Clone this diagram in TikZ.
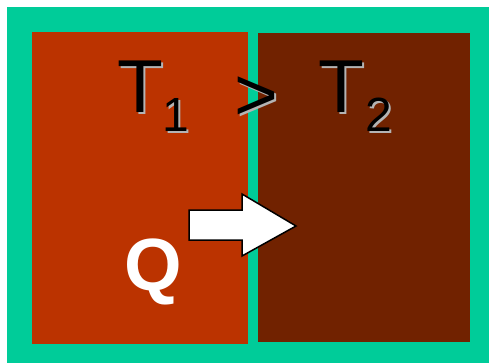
\documentclass[tikz,border=0pt]{standalone}
\usepackage{fontspec}
\setmainfont{Liberation Sans}
\definecolor{bggreen}{HTML}{00CC99}
\definecolor{hotred}{HTML}{BB3300}
\definecolor{coldbrown}{HTML}{712200}
\definecolor{shadowgrey}{HTML}{B4B4B4}
\begin{document}
\begin{tikzpicture}[x=1pt,y=-1pt,
  big/.style={inner sep=0pt,anchor=base west,font=\fontsize{75}{80}\selectfont},
  sub/.style={inner sep=0pt,anchor=base west,font=\fontsize{48}{52}\selectfont},
  ink/.style={text=black},
  shade/.style={text=shadowgrey}]
\useasboundingbox (0,0) rectangle (489,363);
\fill[bggreen] (7,7) rectangle (489,363);
\fill[hotred] (32,32) rectangle (248,344);
\fill[coldbrown] (258,33) rectangle (470,342);
% shadows
\node[big,shade] (t1s) at (119.5,115) {T};
\node[sub,shade] (s1s) at (164.5,134) {1};
\node[big,shade] (gts) at (236.5,123) {>};
\node[big,shade] (t2s) at (320.5,115) {T};
\node[sub,shade] (s2s) at (367.5,134) {2};
% text
\node[big,ink] (t1) at (117.5,113) {T};
\node[sub,ink] (s1) at (162.5,132) {1};
\node[big,ink] (gt) at (234.5,121) {>};
\node[big,ink] (t2) at (318.5,113) {T};
\node[sub,ink] (s2) at (365.5,132) {2};
\node[inner sep=0pt,anchor=base west,text=white,font=\fontsize{74}{78}\selectfont\bfseries] (q) at (124,290) {Q};
% arrow
\draw[fill=white,draw=black,line width=1.5pt,line join=miter]
  (189,210) -- (242,210) -- (242,194) -- (296,226) -- (242,256) -- (242,240) -- (189,240) -- cycle;
\end{tikzpicture}
\end{document}
